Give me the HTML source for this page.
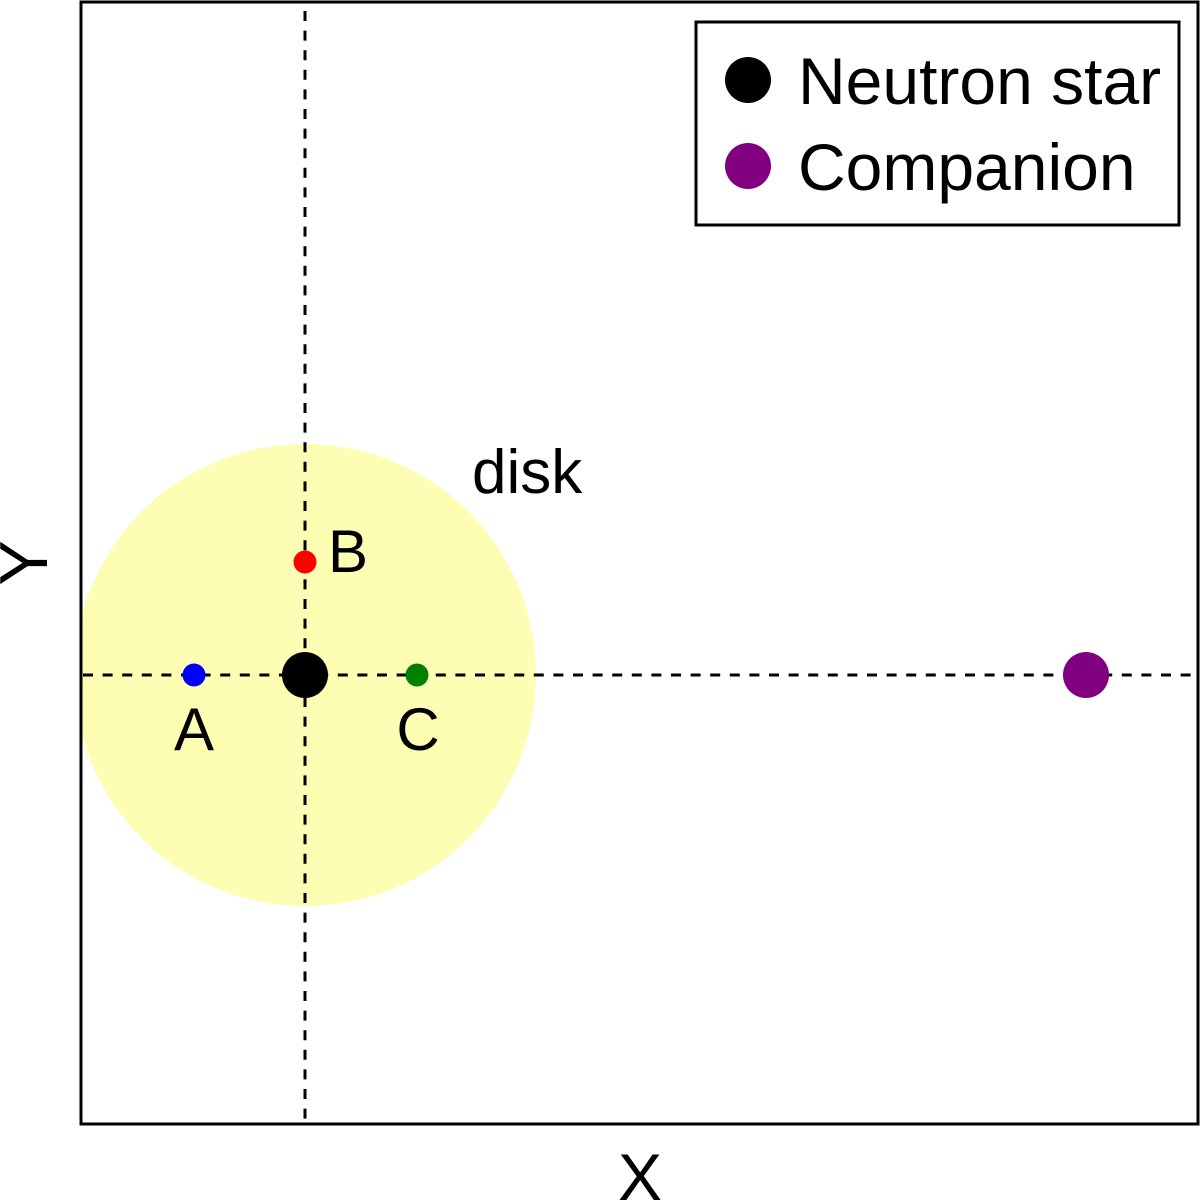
<!DOCTYPE html>
<html><head><meta charset="utf-8"><style>html,body{margin:0;padding:0;background:#fff;}svg{display:block}</style></head>
<body>
<svg width="1200" height="1200" viewBox="0 0 1200 1200" xmlns="http://www.w3.org/2000/svg" font-family="Liberation Sans, Arial, sans-serif">
<defs><clipPath id="ax"><rect x="81" y="2" width="1117" height="1122"/></clipPath></defs>
<g clip-path="url(#ax)">
<circle cx="305" cy="675" r="231" fill="#fdfdb3"/>
<line x1="305" y1="11" x2="305" y2="1124" stroke="#000" stroke-width="3" stroke-dasharray="10,9.6"/>
<line x1="83" y1="675" x2="1198" y2="675" stroke="#000" stroke-width="3" stroke-dasharray="10,9.6"/>
<circle cx="305" cy="675" r="23" fill="#000"/>
<circle cx="194" cy="675" r="11.5" fill="#0000ff"/>
<circle cx="305" cy="562" r="11.5" fill="#ff0000"/>
<circle cx="417" cy="675" r="11.5" fill="#008000"/>
<circle cx="1086" cy="675" r="23" fill="#800080"/>
</g>
<rect x="81" y="2" width="1117" height="1122" fill="none" stroke="#000" stroke-width="3"/>
<text x="472" y="493" font-size="62">disk</text>
<text x="328" y="572" font-size="60">B</text>
<text x="194" y="750" font-size="60" text-anchor="middle">A</text>
<text x="418" y="750" font-size="60" text-anchor="middle">C</text>
<text x="640" y="1200" font-size="66" text-anchor="middle">X</text>
<text transform="translate(47,563) rotate(-90)" font-size="68" text-anchor="middle">Y</text>
<rect x="696" y="22" width="483" height="203" fill="#fff" stroke="#000" stroke-width="3"/>
<circle cx="748" cy="80" r="23" fill="#000"/>
<circle cx="748" cy="166" r="23" fill="#800080"/>
<text x="798" y="104" font-size="66">Neutron star</text>
<text x="798" y="190" font-size="66">Companion</text>
</svg>
</body></html>
